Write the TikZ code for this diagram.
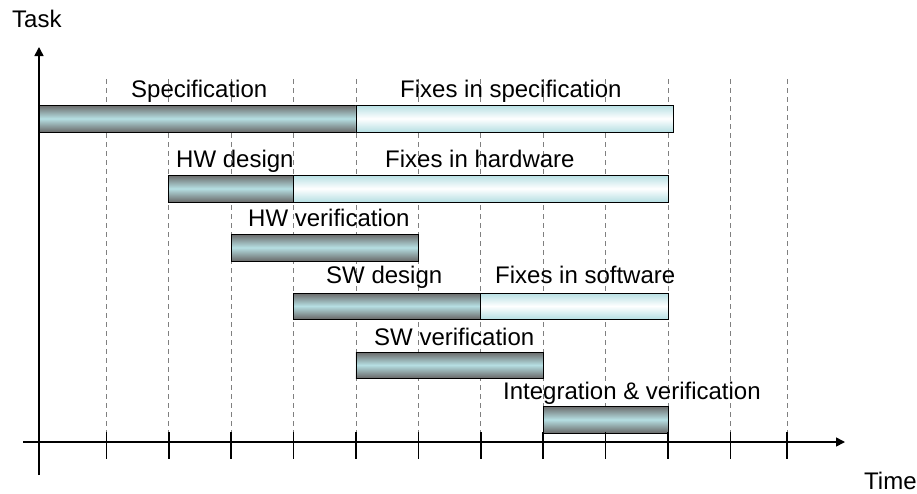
\documentclass[tikz,border=0pt]{standalone}
\usepackage{fontspec}
\setmainfont{Liberation Sans}
\usetikzlibrary{arrows.meta}

\definecolor{barcyan}{RGB}{182,223,227}
\definecolor{baredge}{RGB}{105,105,105}

\tikzset{
  plan/.style={draw=black, line width=0.8pt, top color=baredge, bottom color=baredge, middle color=barcyan},
  fixes/.style={draw=black, line width=0.8pt, top color=barcyan, bottom color=barcyan, middle color=white},
  gridline/.style={gray, line width=0.8pt, dash pattern=on 5pt off 4pt},
  axis/.style={black, line width=1.6pt},
  lbl/.style={anchor=base west, inner sep=0pt, font=\fontsize{24}{28}\selectfont}
}

\begin{document}
\begin{tikzpicture}[x=1pt, y=-1pt]
    \useasboundingbox (0,0) rectangle (917,493);

    % Lineas de tiempo
    \foreach \t in {106.3,168.7,231.1,293.5,355.9,418.3,480.7,543.1,605.5,667.9,730.3,787}
        \draw[gridline] (\t,79) -- (\t,432);

    % Especificacion
    \shade[plan] (39,105) rectangle (355.9,132);
    \shade[fixes] (355.9,105) rectangle (673,132);
    \node[lbl] (spec) at (131,97) {Specification};
    \node[lbl] (specfix) at (400,97) {Fixes in specification};

    % Hardware
    \shade[plan] (168.7,175) rectangle (293.5,202);
    \shade[fixes] (293.5,175) rectangle (667.9,202);
    \node[lbl] (hwdes) at (176,167) {HW design};
    \node[lbl] (hwfix) at (385,167) {Fixes in hardware};

    \shade[plan] (231.1,234) rectangle (418.3,261);
    \node[lbl] (hwver) at (248,226) {HW verification};

    % Software
    \shade[plan] (293.5,293) rectangle (480.7,319);
    \shade[fixes] (480.7,293) rectangle (667.9,319);
    \node[lbl] (swdes) at (326,283) {SW design};
    \node[lbl] (swfix) at (495,283) {Fixes in software};

    \shade[plan] (355.9,352) rectangle (543.1,378);
    \node[lbl] (swver) at (374,345) {SW verification};

    % Integracion
    \shade[plan] (543.1,406) rectangle (667.9,433);
    \node[lbl] (integ) at (503,399) {Integration \& verification};

    % Ejes
    \coordinate (ytop) at (39,47);
    \coordinate (ybot) at (39,475);
    \coordinate (xleft) at (23,442);
    \coordinate (xright) at (845,442);
    \draw[axis, -{Triangle[length=9pt,width=9pt]}] (ybot) -- (ytop);
    \draw[axis, -{Triangle[length=9pt,width=9pt]}] (xleft) -- (xright);
    \foreach \t in {106.3,168.7,231.1,293.5,355.9,418.3,480.7,543.1,605.5,667.9,730.3,787}
        \draw[axis] (\t,432) -- (\t,459);

    \node[lbl] (task) at (12,27) {Task};
    \node[lbl] (time) at (864,489) {Time};
\end{tikzpicture}
\end{document}
